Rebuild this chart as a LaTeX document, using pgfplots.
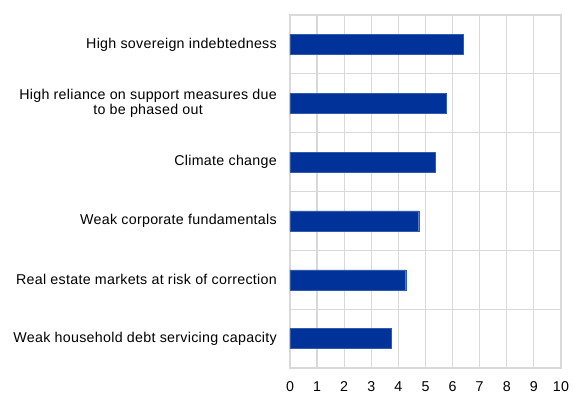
\documentclass[border=0pt]{standalone}
\usepackage{pgfplots}
\pgfplotsset{compat=1.18}
\usepackage{fontspec}
\setmainfont{Liberation Sans}[LetterSpace=2]
\definecolor{ecbblue}{RGB}{0,50,153}
\definecolor{gridgrey}{RGB}{217,217,217}
\begin{document}
\begin{tikzpicture}
\useasboundingbox (-290bp,-26bp) rectangle (283bp,368bp);
\begin{axis}[
  scale only axis,
  width=271bp, height=353bp,
  xbar, bar width=20bp,
  xmin=0, xmax=10,
  ymin=-0.5, ymax=5.5,
  y dir=reverse,
  xtick={0,1,...,10},
  ytick={0,1,2,3,4,5},
  yticklabels={High sovereign indebtedness,
    {High reliance on support measures due\\to be phased out},
    Climate change,
    Weak corporate fundamentals,
    Real estate markets at risk of correction,
    Weak household debt servicing capacity},
  minor ytick={0.5,1.5,2.5,3.5,4.5},
  xmajorgrids, yminorgrids,
  grid style={gridgrey, line width=1.2bp},
  minor grid style={gridgrey, line width=1.2bp},
  axis line style={gridgrey, line width=1.2bp},
  major tick length=0pt, minor tick length=0pt,
  tick style={draw=none},
  font=\fontsize{14.3}{15.5}\selectfont,
  yticklabel style={align=center, inner sep=0pt, xshift=-13bp, font=\fontsize{14.3}{15.5}\selectfont},
  xticklabel style={inner sep=0pt, yshift=-13bp, font=\fontsize{14.3}{15.5}\selectfont},
  /pgf/number format/assume math mode=true,
]
\addplot[fill=ecbblue, draw=ecbblue!80!white] coordinates {
  (6.39,0) (5.78,1) (5.37,2) (4.75,3) (4.27,4) (3.72,5)
};
\end{axis}
\end{tikzpicture}
\end{document}
